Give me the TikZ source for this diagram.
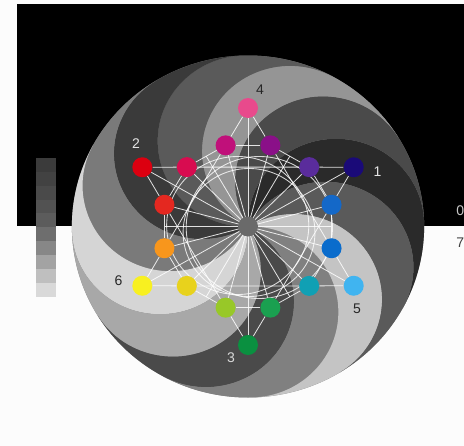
\documentclass[tikz,border=0pt]{standalone}
\usepackage{fontspec}
\setmainfont{Liberation Sans}
\pgfdeclarelayer{back}
\pgfdeclarelayer{lines}
\pgfsetlayers{back,lines,main}
\definecolor{cT30}{HTML}{1A0A78}
\definecolor{cT90}{HTML}{E84A8C}
\definecolor{cT150}{HTML}{DC0010}
\definecolor{cT210}{HTML}{F8F020}
\definecolor{cT270}{HTML}{0A9040}
\definecolor{cT330}{HTML}{40B4F0}
\definecolor{cI15}{HTML}{1468C8}
\definecolor{cI45}{HTML}{5A2C9C}
\definecolor{cI75}{HTML}{8A1088}
\definecolor{cI105}{HTML}{C0107A}
\definecolor{cI135}{HTML}{D80C50}
\definecolor{cI165}{HTML}{E42820}
\definecolor{cI195}{HTML}{F8961C}
\definecolor{cI225}{HTML}{E8D21C}
\definecolor{cI255}{HTML}{98C828}
\definecolor{cI285}{HTML}{1AA050}
\definecolor{cI315}{HTML}{10A0B4}
\definecolor{cI345}{HTML}{0A6CCC}
\definecolor{hubgray}{HTML}{6A6A6A}
\definecolor{paper}{HTML}{FCFCFC}
\begin{document}
\begin{tikzpicture}[x=0.75pt,y=-0.75pt,
  dot/.style={circle,inner sep=0pt,minimum size=15pt},
  web/.style={draw=white,draw opacity=0.85,line width=0.6pt},
  ring/.style={draw=white,draw opacity=0.8,line width=0.65pt},
  lbl/.style={font=\fontsize{10.5}{12}\selectfont,inner sep=0pt}]
\useasboundingbox (0,0) rectangle (464,446);
\begin{pgfonlayer}{back}
\fill[paper] (0,0) rectangle (464,446);
\fill[black] (17,4) rectangle (464,226);
% grey scale bar
\foreach \i/\v in {0/0.23,1/0.26,2/0.29,3/0.32,4/0.36,5/0.43,6/0.53,7/0.64,8/0.75,9/0.85}{
  \definecolor{lg}{gray}{\v}
  \fill[lg] (36,158+13.87*\i) rectangle (56,158+13.87*\i+13.87);
}
\end{pgfonlayer}
\begin{scope}[shift={(248,226.5)},yscale=-1,xscale=1.03]
  \coordinate (C) at (0,0);
  \begin{pgfonlayer}{back}
  \fill[gray] (C) circle[radius=171];
  \foreach \a/\v in {-28.5/0.165, 1.5/0.29, 31.5/0.585, 61.5/0.353, 91.5/0.227, 121.5/0.478, 151.5/0.835, 181.5/0.66, 211.5/0.29, 241.5/0.50, 271.5/0.77, 301.5/0.353}{
    \pgfmathsetmacro\b{\a+30}
    \pgfmathsetmacro\bb{\a+210}
    \pgfmathsetmacro\ab{\a+180}
    \definecolor{armc}{gray}{\v}
    \fill[armc] (0,0) arc[start angle=\bb, end angle=\b, radius=85.5]
      arc[start angle=\b, end angle=\a, radius=171]
      arc[start angle=\a, end angle=\ab, radius=85.5] -- cycle;
  }
  \end{pgfonlayer}
  % nodes
  \foreach \t in {30,90,150,210,270,330}
    \node[dot,fill=cT\t] (t\t) at (\t:118.5) {};
  \foreach \t in {15,45,75,105,135,165,195,225,255,285,315,345}
    \node[dot,fill=cI\t] (i\t) at (\t:84) {};
  \foreach \t in {0,60,120,180,240,300}
    \coordinate (m\t) at (\t:81);
  \node[circle,fill=hubgray,inner sep=0pt,minimum size=15pt] (hub) at (C) {};
  \begin{pgfonlayer}{lines}
  % spokes
  \foreach \t in {30,90,150,210,270,330} \draw[web] (C) -- (t\t);
  \foreach \t in {15,45,75,105,135,165,195,225,255,285,315,345} \draw[web] (C) -- (i\t);
  \foreach \t in {0,60,120,180,240,300} \draw[web] (C) -- (m\t);
  % hexagram
  \foreach \A in {30,90,150,210,270,330}{
    \pgfmathtruncatemacro\B{mod(\A+120,360)}
    \pgfmathtruncatemacro\c{\A+15}
    \pgfmathtruncatemacro\d{mod(\A+105,360)}
    \draw[web] (t\A) -- (i\c) -- (i\d) -- (t\B);
  }
  % inner ring
  \foreach \t in {15,45,75,105,135,165,195,225,255,285,315,345}{
    \pgfmathtruncatemacro\n{mod(\t+30,360)}
    \draw[web] (i\t) -- (i\n);
  }
  % circles
  \draw[ring] (-10,1) circle[radius=69];
  \draw[ring] (11,-1) circle[radius=71];
  \draw[ring] (1,-6) circle[radius=64];
  \end{pgfonlayer}
\end{scope}
% labels
\node[lbl,text=white!90!black] (l1) at (377.5,172) {1};
\node[lbl,text=white!90!black] (l2) at (136,143.5) {2};
\node[lbl,text=white!85!black] (l3) at (231,358) {3};
\node[lbl,text=black!85] (l4) at (260,90) {4};
\node[lbl,text=black!85] (l5) at (357,308.5) {5};
\node[lbl,text=black!85] (l6) at (118.5,280.5) {6};
\node[lbl,text=white!78!black,anchor=west] (s0) at (456,211) {0};
\node[lbl,text=black!75,anchor=west] (s7) at (456,243) {7};
\end{tikzpicture}
\end{document}
